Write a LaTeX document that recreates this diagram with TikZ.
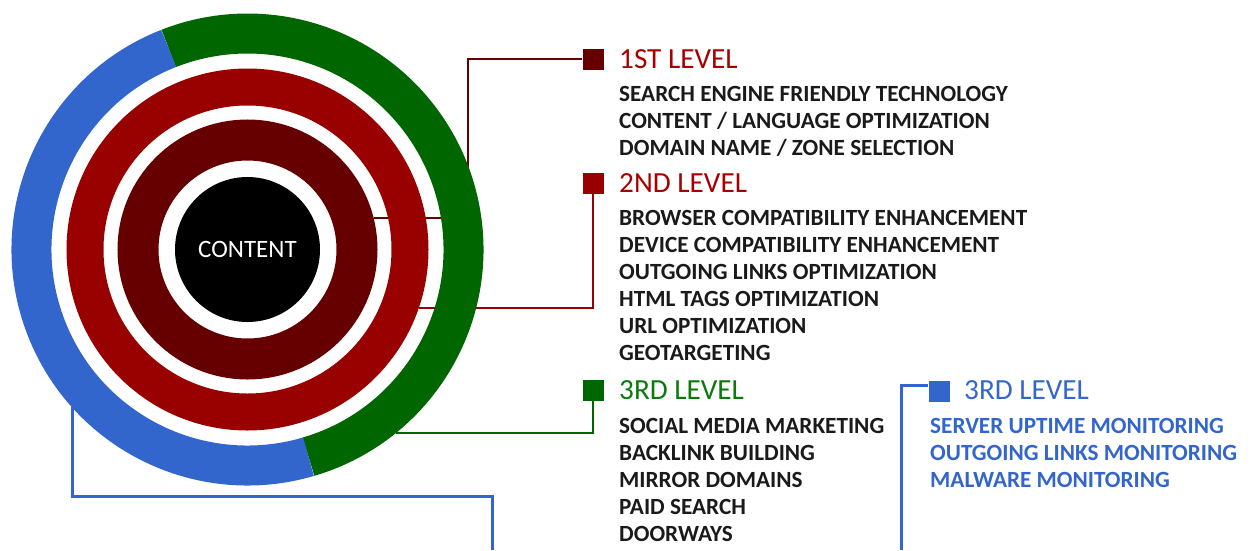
\documentclass[tikz,border=0pt]{standalone}
\usepackage{fontspec}
\setmainfont{Carlito}
\definecolor{dred}{HTML}{660000}
\definecolor{mred}{HTML}{990000}
\definecolor{hred}{HTML}{A80000}
\definecolor{ggreen}{HTML}{006600}
\definecolor{hgreen}{HTML}{0A7A0A}
\definecolor{bblue}{HTML}{3366CC}
\definecolor{txt}{HTML}{1A1A1A}
\begin{document}
\begin{tikzpicture}[x=1pt,y=-1pt,
  sqr/.style={rectangle, minimum size=21pt, inner sep=0pt},
  head/.style={anchor=base west, inner sep=0pt, font=\fontsize{29.2}{29}\selectfont},
  item/.style={anchor=base west, inner sep=0pt, font=\bfseries\fontsize{23.2}{27}\selectfont, text=txt},
  bitem/.style={item, text=bblue},
  conn/.style={line width=2.6pt},
  bconn/.style={line width=3pt, bblue}]
\useasboundingbox (0,0) rectangle (1251,550);
\coordinate (c) at (247.5,249.5);
% connector end points
\coordinate (l1s) at (373.6,218);
\coordinate (k1) at (468,59);
\coordinate (l2s) at (418.8,308);
\coordinate (l3s) at (395.9,433);
\coordinate (l4s) at (72,407.3);
\coordinate (k4) at (492,496);
\coordinate (e4) at (492,550);
\coordinate (k5) at (901,385);
\coordinate (e5) at (901,550);
% squares
\node[sqr, fill=dred] (sq1) at (593,59) {};
\node[sqr, fill=mred] (sq2) at (593,183) {};
\node[sqr, fill=ggreen] (sq3) at (593,390) {};
\node[sqr, fill=bblue] (sq4) at (939,391) {};
% connectors (behind the rings)
\draw[conn, dred] (l1s) -| (k1) -- (sq1.west);
\draw[conn, mred] (sq2.south) |- (l2s);
\draw[conn, ggreen] (sq3.south) |- (l3s);
\draw[bconn] (l4s) |- (k4) -- (e4);
\draw[bconn] (sq4.west |- k5) -- (k5) -- (e5);
% rings
\fill[black] (c) circle[radius=72.5];
\draw[dred, line width=41pt] (c) circle[radius=109.5];
\draw[mred, line width=37pt] (c) circle[radius=162.5];
\draw[ggreen, line width=40pt] (c) ++(73.6:216) arc[start angle=73.6, end angle=-111.4, radius=216];
\draw[bblue, line width=40pt] (c) ++(-111.4:216) arc[start angle=-111.4, end angle=-286.4, radius=216];
\node[text=white, font=\fontsize{25}{25}\selectfont, inner sep=0pt] (content) at (247.5,249) {CONTENT};
% texts
\node[head, text=hred] (h1) at (619,68) {1ST LEVEL};
\foreach \t [count=\i] in {SEARCH ENGINE FRIENDLY TECHNOLOGY, CONTENT / LANGUAGE OPTIMIZATION, DOMAIN NAME / ZONE SELECTION}
  \node[item] (a\i) at (619,{101.5+27*(\i-1)}) {\t};
\node[head, text=hred] (h2) at (619,192.5) {2ND LEVEL};
\foreach \t [count=\i] in {BROWSER COMPATIBILITY ENHANCEMENT, DEVICE COMPATIBILITY ENHANCEMENT, OUTGOING LINKS OPTIMIZATION, HTML TAGS OPTIMIZATION, URL OPTIMIZATION, GEOTARGETING}
  \node[item] (b\i) at (619,{225.5+27*(\i-1)}) {\t};
\node[head, text=hgreen] (h3) at (619,399.5) {3RD LEVEL};
\foreach \t [count=\i] in {SOCIAL MEDIA MARKETING, BACKLINK BUILDING, MIRROR DOMAINS, PAID SEARCH, DOORWAYS}
  \node[item] (g\i) at (619,{433.5+27*(\i-1)}) {\t};
\node[head, text=bblue] (h4) at (964,399.5) {3RD LEVEL};
\foreach \t [count=\i] in {SERVER UPTIME MONITORING, OUTGOING LINKS MONITORING, MALWARE MONITORING}
  \node[bitem] (m\i) at (930,{433.5+27*(\i-1)}) {\t};
\end{tikzpicture}
\end{document}
